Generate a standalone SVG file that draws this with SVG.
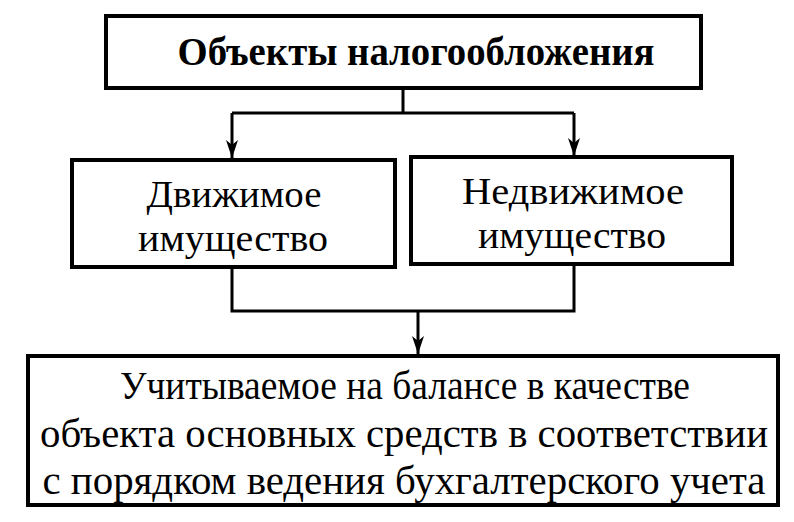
<svg xmlns="http://www.w3.org/2000/svg" width="794" height="522" viewBox="0 0 794 522">
<style>
.box{fill:#fff;stroke:#000;stroke-width:4}
.conn{fill:none;stroke:#000;stroke-width:3}
.t{font-family:"Liberation Serif","Times New Roman",serif;fill:#000;text-anchor:middle}
</style>
<defs>
<marker id="arr" viewBox="0 0 18 12" refX="18" refY="6" markerWidth="18" markerHeight="12" markerUnits="userSpaceOnUse" orient="auto">
<path d="M0,0 L18,6 L0,12 L5,6 Z" fill="#000"/>
</marker>
</defs>
<rect width="794" height="522" fill="#fff"/>
<g id="connectors">
<path class="conn" d="M403,88 V113"/>
<path class="conn" d="M232,113 H574"/>
<path class="conn" d="M232,113 V158" marker-end="url(#arr)"/>
<path class="conn" d="M574,113 V156" marker-end="url(#arr)"/>
<path class="conn" d="M232,267 V311 H574 V264"/>
<path class="conn" d="M418,311 V354" marker-end="url(#arr)"/>
</g>
<g id="top">
<rect class="box" x="106" y="16" width="595" height="72"/>
<text class="t" x="416" y="65" font-size="40" font-weight="bold" textLength="477" lengthAdjust="spacingAndGlyphs">Объекты налогообложения</text>
</g>
<g id="movable">
<rect class="box" x="72" y="160" width="323" height="107"/>
<text class="t" x="234" y="207" font-size="37" textLength="175" lengthAdjust="spacingAndGlyphs">Движимое</text>
<text class="t" x="233" y="251" font-size="37" textLength="190" lengthAdjust="spacingAndGlyphs">имущество</text>
</g>
<g id="immovable">
<rect class="box" x="411" y="157" width="321" height="107"/>
<text class="t" x="573" y="204" font-size="37" textLength="222" lengthAdjust="spacingAndGlyphs">Недвижимое</text>
<text class="t" x="572" y="248" font-size="37" textLength="188" lengthAdjust="spacingAndGlyphs">имущество</text>
</g>
<g id="bottom">
<rect class="box" x="28" y="356" width="750" height="149"/>
<text class="t" x="405" y="399" font-size="40" textLength="570" lengthAdjust="spacingAndGlyphs">Учитываемое на балансе в качестве</text>
<text class="t" x="404" y="447" font-size="40" textLength="728" lengthAdjust="spacingAndGlyphs">объекта основных средств в соответствии</text>
<text class="t" x="404" y="494" font-size="40" textLength="723" lengthAdjust="spacingAndGlyphs">с порядком ведения бухгалтерского учета</text>
</g>
</svg>
